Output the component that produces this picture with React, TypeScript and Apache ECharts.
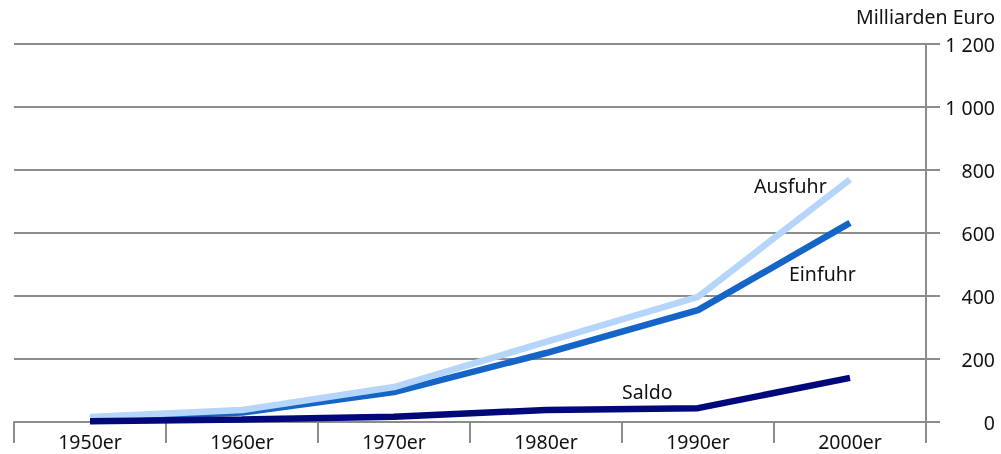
import React, { useEffect, useRef } from "react";
import * as echarts from "echarts";

const categories = ["1950er", "1960er", "1970er", "1980er", "1990er", "2000er"];
const ausfuhr = [16, 38, 111, 254, 397, 770];
const einfuhr = [12, 30, 95, 219, 355, 632];
const saldo = [2, 8, 17, 38, 44, 140];

const FONT = "'Noto Sans', sans-serif";
const FS = 19.5;

export default function App() {
  const ref = useRef<HTMLDivElement>(null);
  useEffect(() => {
    const chart = echarts.init(ref.current!, null, { renderer: "svg" });
    chart.setOption({
      animation: false,
      grid: { left: 14, right: 75, top: 44, bottom: 32, containLabel: false },
      xAxis: {
        type: "category",
        data: categories,
        boundaryGap: true,
        axisLine: { lineStyle: { color: "#8c8c8c", width: 2 } },
        axisTick: { show: true, length: 21, inside: false, lineStyle: { color: "#8c8c8c", width: 2 } },
        axisLabel: { color: "#111", fontFamily: FONT, fontSize: FS, margin: 9 },
        splitLine: { show: false },
      },
      yAxis: {
        type: "value",
        position: "right",
        min: 0,
        max: 1200,
        interval: 200,
        axisLine: { show: true, lineStyle: { color: "#8c8c8c", width: 2 } },
        axisTick: { show: true, length: 14, lineStyle: { color: "#8c8c8c", width: 2 } },
        axisLabel: {
          color: "#111",
          fontFamily: FONT,
          fontSize: FS,
          align: "right",
          margin: 69,
          formatter: (v: number) => (v >= 1000 ? String(v).replace(/(\d)(\d{3})$/, "$1 $2") : String(v)),
        },
        splitLine: { show: true, lineStyle: { color: "#8c8c8c", width: 2 } },
      },
      series: [
        { name: "Ausfuhr", type: "line", data: ausfuhr, symbol: "none", lineStyle: { color: "#b5d5fb", width: 6.5 }, z: 3 },
        { name: "Einfuhr", type: "line", data: einfuhr, symbol: "none", lineStyle: { color: "#1565c9", width: 6.5 }, z: 2 },
        { name: "Saldo", type: "line", data: saldo, symbol: "none", lineStyle: { color: "#00087a", width: 6.5 }, z: 4 },
      ],
      graphic: [
        { type: "text", right: 6, top: 6, style: { text: "Milliarden Euro", fill: "#111", font: `${FS}px ${FONT}` } },
        { type: "text", left: 754, top: 175, style: { text: "Ausfuhr", fill: "#111", font: `${FS}px ${FONT}` } },
        { type: "text", left: 789, top: 263, style: { text: "Einfuhr", fill: "#111", font: `${FS}px ${FONT}` } },
        { type: "text", left: 622, top: 381, style: { text: "Saldo", fill: "#111", font: `${FS}px ${FONT}` } },
      ],
    });
    return () => chart.dispose();
  }, []);
  return <div ref={ref} style={{ position: "fixed", left: 0, top: 0, width: 1001, height: 454 }} />;
}
